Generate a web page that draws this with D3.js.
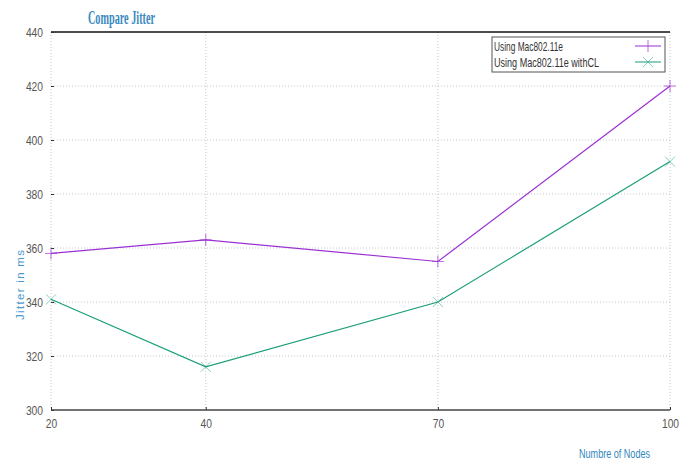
<!DOCTYPE html>
<html>
<head>
<meta charset="utf-8">
<script src="https://cdn.jsdelivr.net/npm/d3@7"></script>
<style>
  body { margin: 0; background: #fff; }
  svg text { font-family: "Liberation Sans", sans-serif; }
</style>
</head>
<body>
<div id="chart"></div>
<script>
const w = 690
const h = 462

// data
const nodes = [20, 40, 70, 100]
const mac = [358, 363, 355, 420]
const macCL = [341, 316, 340, 392]
const seriesNames = ['Using Mac802.11e', 'Using Mac802.11e withCL']
const yTicks = [300, 320, 340, 360, 380, 400, 420, 440]

const pLeft = 51, pRight = 670, pTop = 32, pBottom = 410
const purple = '#9b30d4'
const green = '#1a9e7a'
const blue = '#2f86c0'

// narrow look: squeeze text to the width seen in the picture
function narrow(sel, perChar){
    sel.each(function(){
        const t = d3.select(this)
        t.attr('textLength', t.text().length * perChar)
         .attr('lengthAdjust', 'spacingAndGlyphs')
    })
}

const svg = d3.select('#chart')
    .append('svg')
    .attr('width', w)
    .attr('height', h)

const xScale = d3.scaleLinear()
    .domain([20, 100])
    .range([pLeft, pRight])

const yScale = d3.scaleLinear()
    .domain([300, 440])
    .range([pBottom, pTop])

// grid
svg.selectAll('line.hgrid')
    .data(yTicks.slice(1, -1))
    .enter()
    .append('line')
    .attr('class', 'hgrid')
    .attr('x1', pLeft).attr('x2', pRight)
    .attr('y1', d => yScale(d)).attr('y2', d => yScale(d))
    .style('stroke', '#c8c8c8')
    .style('stroke-width', 1)
    .style('stroke-dasharray', '1,2')

svg.selectAll('line.vgrid')
    .data(nodes)
    .enter()
    .append('line')
    .attr('class', 'vgrid')
    .attr('x1', d => xScale(d)).attr('x2', d => xScale(d))
    .attr('y1', pTop).attr('y2', pBottom)
    .style('stroke', '#c8c8c8')
    .style('stroke-width', 1)
    .style('stroke-dasharray', '1,2')

// top border
svg.append('line')
    .attr('x1', pLeft).attr('x2', pRight)
    .attr('y1', pTop).attr('y2', pTop)
    .style('stroke', '#111')
    .style('stroke-width', 1.5)

// axes
const yAxis = svg.append('g')
    .attr('transform', 'translate(' + pLeft + ',0)')
    .call(d3.axisLeft(yScale).tickValues(yTicks).tickSize(-3).tickPadding(8))
yAxis.select('.domain').remove()
yAxis.selectAll('line').style('stroke', '#333')
yAxis.selectAll('text')
    .attr('font-size', '13px')
    .attr('fill', '#555')
    .style('font-family', '"Liberation Sans", sans-serif')
    .call(narrow, 5.7)

const xAxis = svg.append('g')
    .attr('transform', 'translate(0,' + pBottom + ')')
    .call(d3.axisBottom(xScale).tickValues(nodes).tickSize(-3).tickPadding(9))
xAxis.select('.domain')
    .attr('d', 'M' + pLeft + ',0H' + pRight)
    .style('stroke', '#444')
    .style('stroke-width', 1.3)
xAxis.selectAll('line').style('stroke', '#333')
xAxis.selectAll('text')
    .attr('font-size', '13px')
    .attr('fill', '#555')
    .style('font-family', '"Liberation Sans", sans-serif')
    .call(narrow, 5.7)

// lines
const line = d3.line()
    .x((d, i) => xScale(nodes[i]))
    .y(d => yScale(d))

svg.append('path')
    .datum(mac)
    .attr('d', line)
    .attr('fill', 'none')
    .attr('stroke', purple)
    .attr('stroke-width', 1.2)

svg.append('path')
    .datum(macCL)
    .attr('d', line)
    .attr('fill', 'none')
    .attr('stroke', green)
    .attr('stroke-width', 1.2)

// markers
const s = 6
svg.selectAll('path.plus')
    .data(mac)
    .enter()
    .append('path')
    .attr('class', 'plus')
    .attr('d', (d, i) => {
        const x = xScale(nodes[i]), y = yScale(d)
        return 'M' + (x - s) + ',' + y + 'H' + (x + s) + 'M' + x + ',' + (y - s) + 'V' + (y + s)
    })
    .attr('stroke', purple)
    .attr('stroke-width', 1)
    .attr('opacity', 0.7)

svg.selectAll('path.cross')
    .data(macCL)
    .enter()
    .append('path')
    .attr('class', 'cross')
    .attr('d', (d, i) => {
        const x = xScale(nodes[i]), y = yScale(d), k = 5
        return 'M' + (x - k) + ',' + (y - k) + 'L' + (x + k) + ',' + (y + k) +
            'M' + (x - k) + ',' + (y + k) + 'L' + (x + k) + ',' + (y - k)
    })
    .attr('stroke', green)
    .attr('stroke-width', 1)
    .attr('opacity', 0.5)

// legend
svg.append('rect')
    .attr('x', 492).attr('y', 37)
    .attr('width', 173).attr('height', 35)
    .attr('fill', '#fff')
    .attr('stroke', '#555')
    .attr('stroke-width', 1)

const legendWidths = [69, 105]
seriesNames.forEach(function(name, i){
    const ly = 46 + i * 16
    svg.append('text')
        .text(name)
        .attr('x', 494)
        .attr('y', ly + 5)
        .attr('font-size', '13.5px')
        .attr('fill', '#333')
        .attr('textLength', legendWidths[i])
        .attr('lengthAdjust', 'spacingAndGlyphs')
    svg.append('line')
        .attr('x1', 635).attr('x2', 661)
        .attr('y1', ly).attr('y2', ly)
        .attr('stroke', i === 0 ? purple : green)
        .attr('stroke-width', 1)
    if (i === 0) {
        svg.append('line')
            .attr('x1', 648).attr('x2', 648)
            .attr('y1', ly - s).attr('y2', ly + s)
            .attr('stroke', purple)
            .attr('opacity', 0.7)
    } else {
        svg.append('path')
            .attr('d', 'M643,' + (ly - 5) + 'L653,' + (ly + 5) + 'M643,' + (ly + 5) + 'L653,' + (ly - 5))
            .attr('stroke', green)
            .attr('opacity', 0.5)
    }
})

// titles
svg.append('text')
    .text('Compare Jitter')
    .attr('x', 88)
    .attr('y', 24)
    .attr('font-size', '18px')
    .attr('font-weight', 'bold')
    .attr('textLength', 67)
    .attr('lengthAdjust', 'spacingAndGlyphs')
    .attr('fill', '#3a8ac0')
    .style('font-family', '"Liberation Serif", serif')

svg.append('text')
    .text('Jitter in ms')
    .attr('transform', 'translate(24,285) rotate(-90)')
    .attr('text-anchor', 'middle')
    .attr('font-size', '11.5px')
    .attr('textLength', 70)
    .attr('lengthAdjust', 'spacing')
    .attr('fill', '#4a9ad0')

svg.append('text')
    .text('Numbre of Nodes')
    .attr('x', 579)
    .attr('y', 458)
    .attr('font-size', '12px')
    .attr('textLength', 71)
    .attr('lengthAdjust', 'spacingAndGlyphs')
    .attr('fill', blue)
</script>
</body>
</html>
